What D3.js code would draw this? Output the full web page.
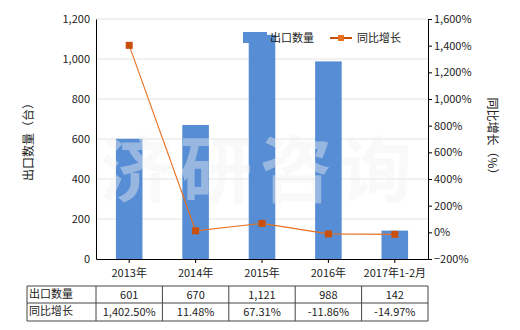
<!DOCTYPE html>
<html lang="zh">
<head>
<meta charset="utf-8">
<title>出口数量与同比增长</title>
<script src="https://cdn.jsdelivr.net/npm/d3@7"></script>
<style>
  body { margin: 0; background: #fff; }
  text { font-family: "Noto Sans CJK SC", "DejaVu Sans", sans-serif; fill: #222; }
</style>
</head>
<body>
<script>
// data
var years = ["2013年", "2014年", "2015年", "2016年", "2017年1-2月"];
var qty = [601, 670, 1121, 988, 142];
var growth = [1402.50, 11.48, 67.31, -11.86, -14.97];
var qtyLabels = ["601", "670", "1,121", "988", "142"];
var growthLabels = ["1,402.50%", "11.48%", "67.31%", "-11.86%", "-14.97%"];

var W = 520, H = 330;
// plot edges ("top" is taken by window.top, so use pl/pr/pt/pb)
var pl = 96, pr = 428, pt = 19, pb = 259;

var svg = d3.select("body").append("svg")
  .attr("width", W).attr("height", H);

var x = d3.scaleBand().domain(years).range([pl, pr]);
var yL = d3.scaleLinear().domain([0, 1200]).range([pb, pt]);
var yR = d3.scaleLinear().domain([-200, 1600]).range([pb, pt]);

// grid lines
svg.append("g").selectAll("line")
  .data(d3.range(200, 1201, 200))
  .enter().append("line")
  .attr("x1", pl).attr("x2", pr)
  .attr("y1", function(d) { return yL(d); })
  .attr("y2", function(d) { return yL(d); })
  .attr("stroke", "#e3e3e3");

// bars
var bw = x.bandwidth() * 0.4;
svg.append("g").selectAll("rect")
  .data(qty).enter().append("rect")
  .attr("x", function(d, i) { return x(years[i]) + (x.bandwidth() - bw) / 2; })
  .attr("y", function(d) { return yL(d); })
  .attr("width", bw)
  .attr("height", function(d) { return pb - yL(d); })
  .attr("fill", "#568dd4");

// watermark
svg.append("text")
  .attr("x", 260).attr("y", 196)
  .attr("text-anchor", "middle")
  .style("font-size", "72px").style("font-weight", "bold")
  .style("letter-spacing", "8px")
  .style("fill", "#f0f0f0").style("fill-opacity", 0.42)
  .text("济研咨询");

// left axis
var axL = svg.append("g").attr("transform", "translate(" + pl + ",0)")
  .call(d3.axisLeft(yL).tickValues(d3.range(0, 1201, 200)).tickSize(0).tickPadding(6).tickFormat(d3.format(",")));
axL.select(".domain").attr("stroke", "#000");
axL.selectAll("text").style("font-size", "11px");

// right axis
var axR = svg.append("g").attr("transform", "translate(" + pr + ",0)")
  .call(d3.axisRight(yR).tickValues(d3.range(-200, 1601, 200)).tickSize(4).tickPadding(2)
    .tickFormat(function(d) { return d3.format(",")(d) + "%"; }));
axR.select(".domain").attr("stroke", "#000");
axR.selectAll("line").attr("stroke", "#000");
axR.selectAll("text").style("font-size", "11px");

// bottom axis
var axB = svg.append("g").attr("transform", "translate(0," + pb + ")")
  .call(d3.axisBottom(x).tickSize(4).tickPadding(6).tickSizeOuter(0));
axB.select(".domain").attr("stroke", "#000");
axB.selectAll("line").attr("stroke", "#000");
axB.selectAll("text").style("font-size", "11px");

// growth line
var line = d3.line()
  .x(function(d, i) { return x(years[i]) + x.bandwidth() / 2; })
  .y(function(d) { return yR(d); });
svg.append("path").datum(growth)
  .attr("d", line).attr("fill", "none")
  .attr("stroke", "#e8701e").attr("stroke-width", 1.1);
svg.append("g").selectAll("rect")
  .data(growth).enter().append("rect")
  .attr("x", function(d, i) { return x(years[i]) + x.bandwidth() / 2 - 3.5; })
  .attr("y", function(d) { return yR(d) - 3.5; })
  .attr("width", 7).attr("height", 7)
  .attr("fill", "#c9500c");

// axis titles
svg.append("text")
  .attr("transform", "translate(33," + ((pt + pb) / 2) + ") rotate(-90)")
  .attr("text-anchor", "middle")
  .style("font-size", "12px")
  .text("出口数量（台）");
svg.append("text")
  .attr("transform", "translate(488," + ((pt + pb) / 2) + ") rotate(90)")
  .attr("text-anchor", "middle")
  .style("font-size", "12px")
  .text("同比增长（%）");

// legend
svg.append("rect").attr("x", 243).attr("y", 32).attr("width", 24).attr("height", 11).attr("fill", "#568dd4");
svg.append("text").attr("x", 270).attr("y", 42).style("font-size", "11px").text("出口数量");
svg.append("line").attr("x1", 330).attr("x2", 352).attr("y1", 38).attr("y2", 38)
  .attr("stroke", "#c9500c").attr("stroke-width", 2);
svg.append("rect").attr("x", 338).attr("y", 35).attr("width", 6).attr("height", 6).attr("fill", "#e8701e");
svg.append("text").attr("x", 357).attr("y", 42).style("font-size", "11px").text("同比增长");

// data table
var tLeft = 27, r0 = 286, r1 = 303, r2 = 321;
var tbl = svg.append("g");
[r0, r1, r2].forEach(function(yy) {
  tbl.append("line").attr("x1", tLeft).attr("x2", pr).attr("y1", yy).attr("y2", yy)
    .attr("stroke", "#444");
});
var cols = [tLeft, pl].concat(years.map(function(d) { return x(d) + x.bandwidth(); }));
tbl.selectAll(".vl").data(cols).enter().append("line")
  .attr("x1", function(d) { return d; }).attr("x2", function(d) { return d; })
  .attr("y1", r0).attr("y2", r2).attr("stroke", "#444");
tbl.append("text").attr("x", tLeft + 2).attr("y", r0 + 12).style("font-size", "11px").text("出口数量");
tbl.append("text").attr("x", tLeft + 2).attr("y", r1 + 12).style("font-size", "11px").text("同比增长");
tbl.selectAll(".q").data(qtyLabels).enter().append("text")
  .attr("x", function(d, i) { return x(years[i]) + x.bandwidth() / 2; })
  .attr("y", r0 + 13).attr("text-anchor", "middle").style("font-size", "11px")
  .text(function(d) { return d; });
tbl.selectAll(".g").data(growthLabels).enter().append("text")
  .attr("x", function(d, i) { return x(years[i]) + x.bandwidth() / 2; })
  .attr("y", r1 + 13).attr("text-anchor", "middle").style("font-size", "11px")
  .text(function(d) { return d; });
</script>
</body>
</html>
